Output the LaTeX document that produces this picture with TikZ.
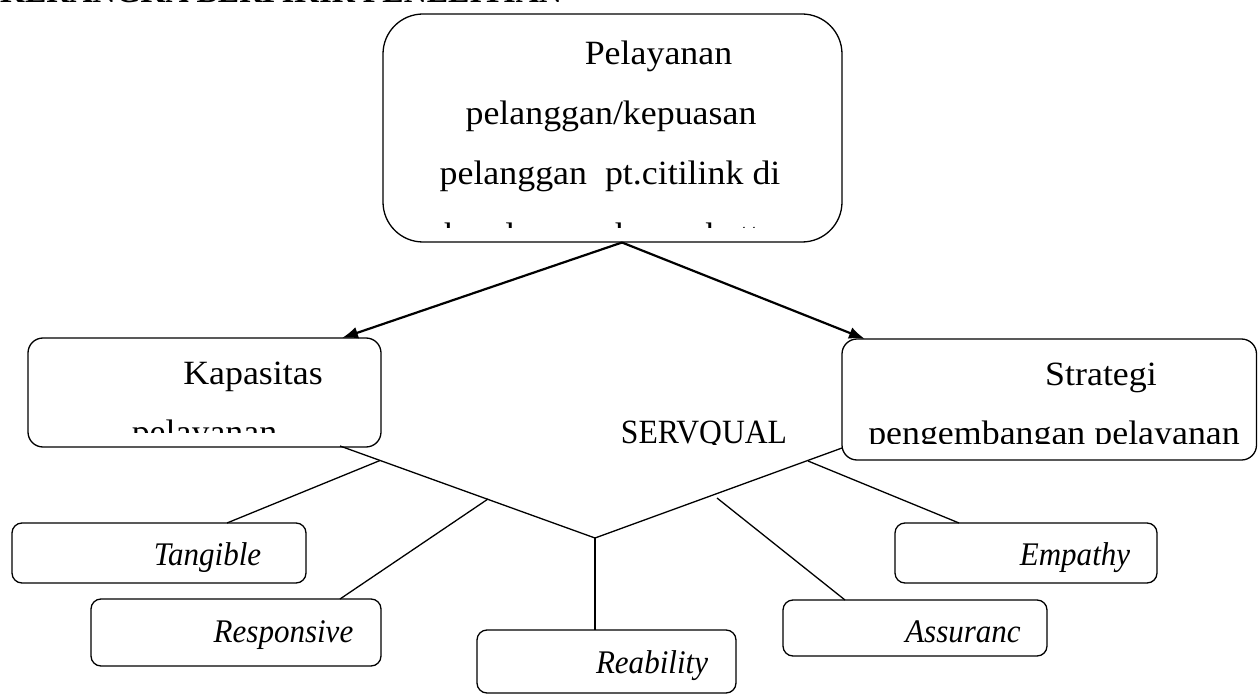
\documentclass[tikz,border=0pt]{standalone}
\usepackage{fontspec}
\setmainfont{Liberation Serif}
\newfontfamily\wideserif{Liberation Serif}[FakeStretch=1.055]
\newfontfamily\narrowserif{Liberation Serif}[FakeStretch=0.93]
\newfontfamily\italserif{Liberation Serif Italic}[FakeStretch=0.94]
\usetikzlibrary{arrows.meta}
\begin{document}
\begin{tikzpicture}[x=1pt,y=-1pt,
  box/.style={draw, line width=1.3pt, inner sep=0pt},
  bigbox/.style={box, rounded corners=40pt},
  midbox/.style={box, rounded corners=15pt},
  smallbox/.style={box, rounded corners=10pt},
  lbl/.style={anchor=base, inner sep=0pt, font=\wideserif\fontsize{34}{40}\selectfont},
  plainlbl/.style={anchor=base, inner sep=0pt, font=\narrowserif\fontsize{34}{40}\selectfont},
  ilbl/.style={anchor=base, inner sep=0pt, font=\italserif\fontsize{33}{39}\selectfont},
  conn/.style={line width=1.3pt},
  arr/.style={line width=2.2pt, -{Latex[length=16pt,width=12pt]}},
]
\useasboundingbox (0,0) rectangle (1258,695);

% heading (cut off at the top edge)
\begin{scope}
  \clip (0,0) rectangle (1258,695);
  \node[anchor=base west, inner sep=0pt, font=\fontsize{32}{38}\selectfont\bfseries] (head) at (0,3) {KERANGKA BERPIKIR PENELITIAN};
\end{scope}

% boxes
\node[bigbox, minimum width=459pt, minimum height=228pt] (top) at (612.5,128) {};
\node[midbox, minimum width=353pt, minimum height=109pt] (kap) at (204.5,392.5) {};
\node[midbox, minimum width=414.5pt, minimum height=121pt] (str) at (1049.25,399.5) {};
\node[smallbox, minimum width=294pt, minimum height=60pt] (tan) at (159,553) {};
\node[smallbox, minimum width=290pt, minimum height=67pt] (res) at (236,632.5) {};
\node[smallbox, minimum width=259pt, minimum height=63pt] (rea) at (606.5,661.5) {};
\node[smallbox, minimum width=264pt, minimum height=56pt] (ass) at (915,628) {};
\node[smallbox, minimum width=262pt, minimum height=60pt] (emp) at (1026,553) {};

% texts of top box
\node[lbl] (t1) at (658.5,65) {Pelayanan};
\node[lbl] (t2) at (611,125) {pelanggan/kepuasan};
\node[lbl] (t3) at (610,185) {pelanggan\ \ pt.citilink di};
\begin{scope}
  \clip (390,200) rectangle (835,228);
  \node[lbl] (t4) at (610,246) {bandara soekarno hatta};
\end{scope}

% Kapasitas box
\node[lbl] (k1) at (253,384) {Kapasitas};
\begin{scope}
  \clip (35,400) rectangle (375,432);
  \node[lbl] (k2) at (204.5,443) {pelayanan};
\end{scope}

% Strategi box
\node[lbl] (s1) at (1101,385) {Strategi};
\begin{scope}
  \clip (848,400) rectangle (1256,443);
  \node[lbl] (s2) at (1054,444) {pengembangan pelayanan};
\end{scope}

% SERVQUAL
\begin{scope}
  \clip (600,400) rectangle (800,444);
  \node[plainlbl] (sq) at (704,443) {SERVQUAL};
\end{scope}

% small labels
\node[ilbl] (tanl) at (207.5,565) {Tangible};
\node[ilbl] (resl) at (283.5,642) {Responsive};
\node[ilbl] (real) at (652,673) {Reability};
\node[ilbl] (assl) at (963,642) {Assuranc};
\node[ilbl] (empl) at (1075,565) {Empathy};

% junction coordinates
\coordinate (src) at (622,242.5);
\coordinate (kapin) at (342,338);
\coordinate (strin) at (865,339);
\coordinate (vl) at (340,446);
\coordinate (vr) at (842,448);
\coordinate (vx) at (595,538);
\coordinate (jt) at (380,460.5);
\coordinate (jr) at (488,499);
\coordinate (je) at (808,461);
\coordinate (ja) at (717,498);
\coordinate (tantop) at (227,523);
\coordinate (restop) at (340,599);
\coordinate (reatop) at (595,630);
\coordinate (asstop) at (845,600);
\coordinate (emptop) at (959,523);

% arrows
\draw[arr] (src) -- (kapin);
\draw[arr] (src) -- (strin);

% SERVQUAL branches
\draw[conn] (vl) -- (vx) -- (vr);
\draw[conn] (vx) -- (reatop);
\draw[conn] (jt) -- (tantop);
\draw[conn] (jr) -- (restop);
\draw[conn] (je) -- (emptop);
\draw[conn] (ja) -- (asstop);
\end{tikzpicture}
\end{document}
